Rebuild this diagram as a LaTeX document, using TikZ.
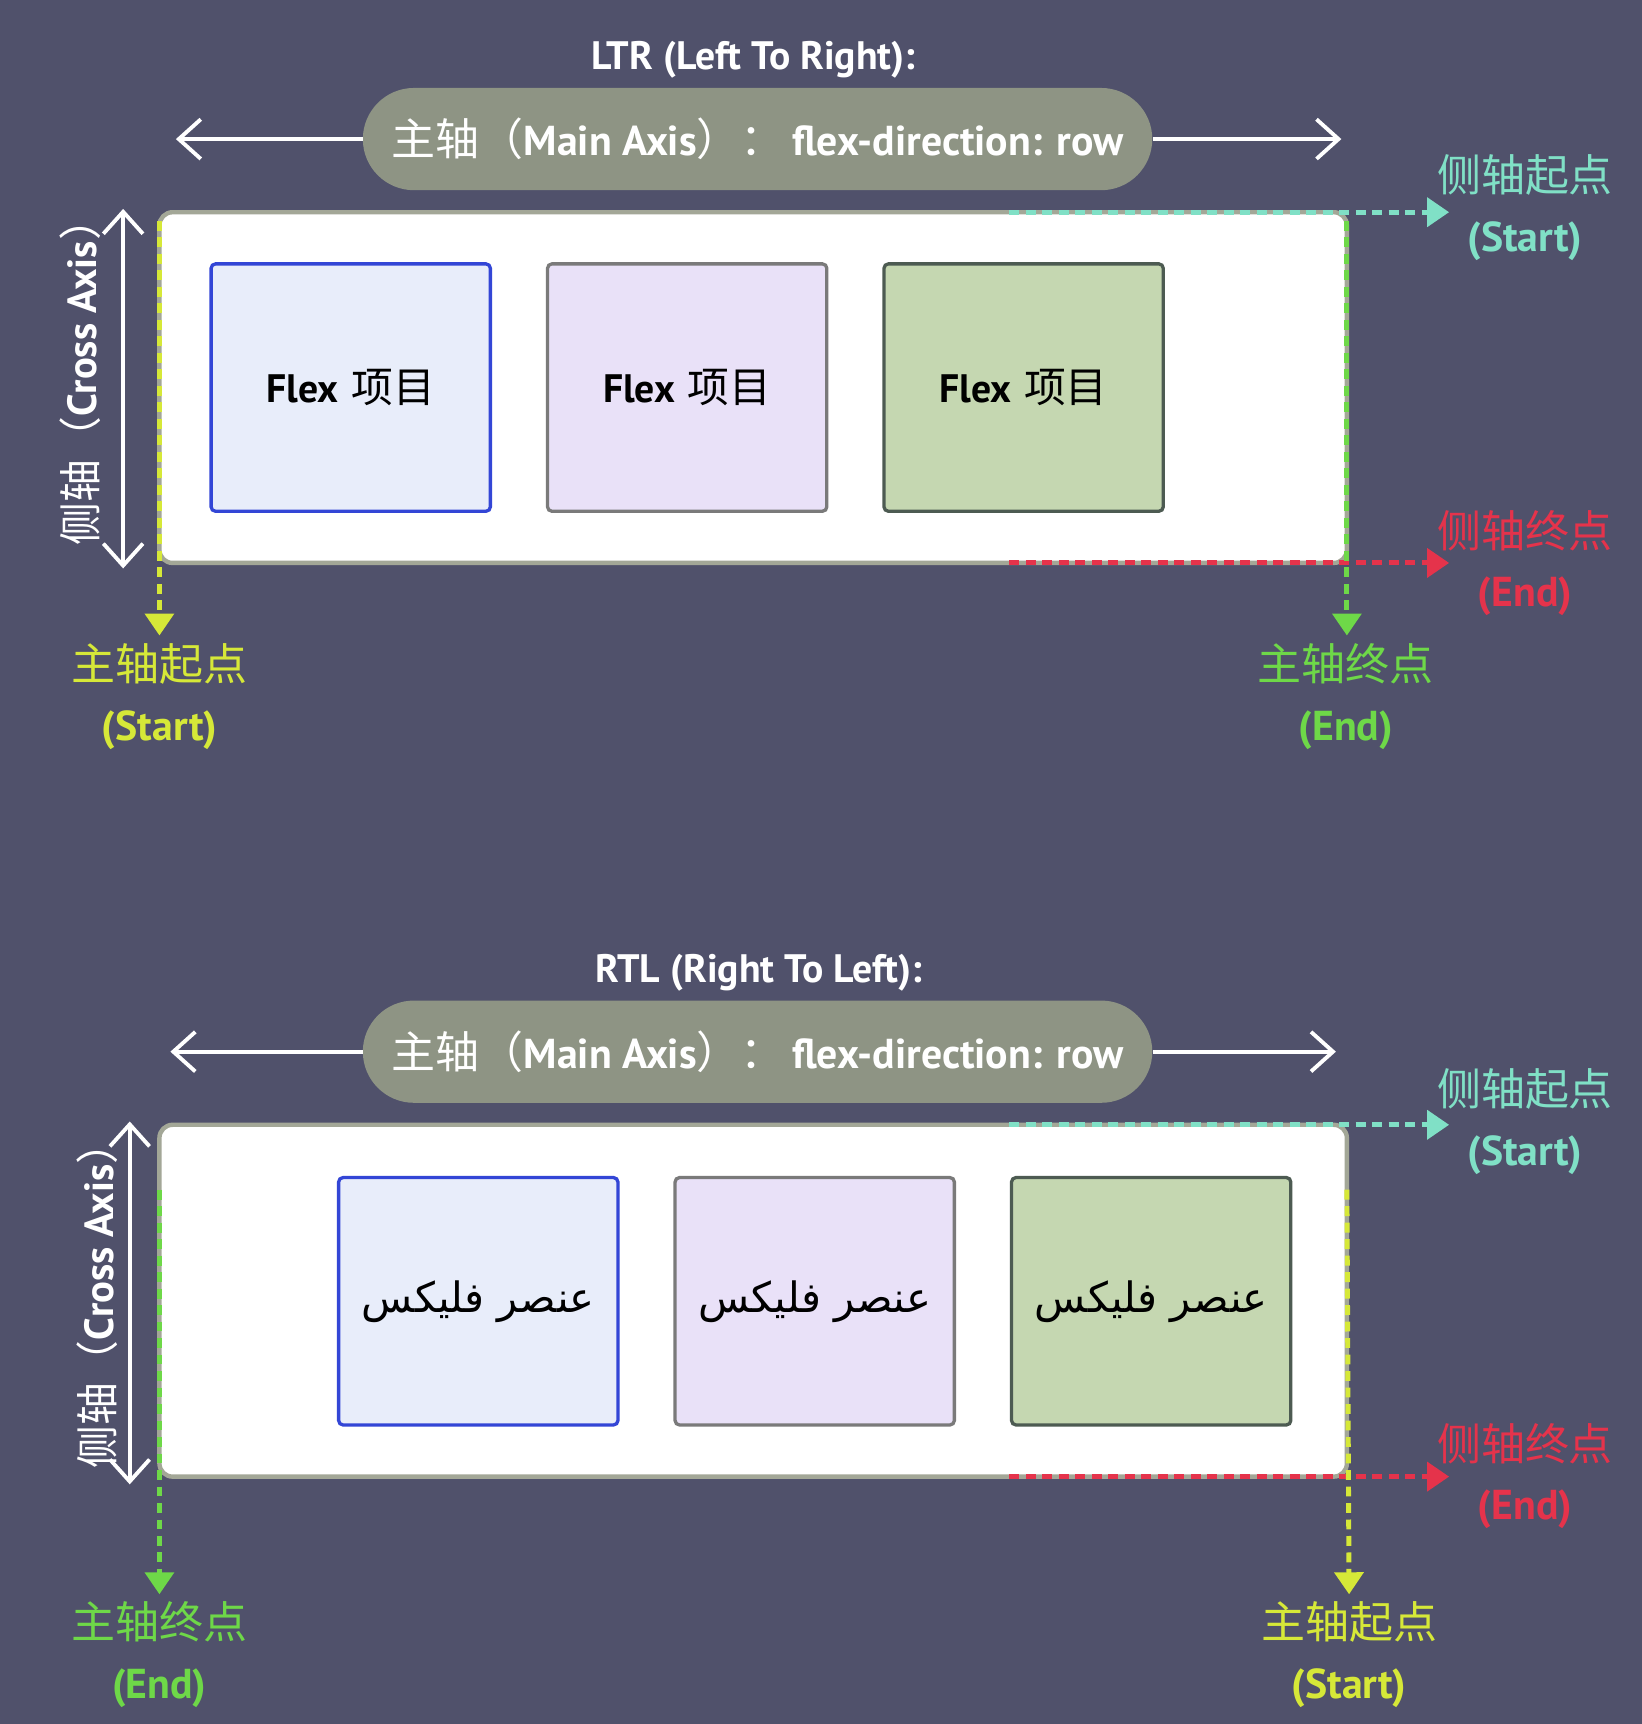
\documentclass[tikz,border=0pt]{standalone}
\usepackage{fontspec}
\usetikzlibrary{arrows.meta}
\TeXXeTstate=1
\newfontfamily\cjk{Noto Sans CJK SC}
\newfontfamily\lat[Scale=0.95]{PT Sans}
\newfontfamily\arabicfont[Script=Arabic]{DejaVu Sans}
\newcommand\zhtxt[1]{{\cjk #1}}
\newcommand\entxt[1]{{\lat\bfseries #1}}
\definecolor{bgc}{HTML}{50516B}
\definecolor{pillc}{HTML}{8E9484}
\definecolor{contb}{HTML}{A3A797}
\definecolor{cyanc}{HTML}{80E0C6}
\definecolor{redc}{HTML}{E5334B}
\definecolor{yelc}{HTML}{D6E838}
\definecolor{grnc}{HTML}{6ED848}
\definecolor{itemAf}{HTML}{E8EDFA}
\definecolor{itemAd}{HTML}{3346D6}
\definecolor{itemBf}{HTML}{E9E1F8}
\definecolor{itemBd}{HTML}{7A7A7A}
\definecolor{itemCf}{HTML}{C5D7B1}
\definecolor{itemCd}{HTML}{4D5B52}
\tikzset{
  axisarrow/.style={draw=white, line width=3.5pt, -{Straight Barb[length=20pt,width=36pt]}},
  bothaxis/.style={draw=white, line width=3.5pt, {Straight Barb[length=20pt,width=36pt]}-{Straight Barb[length=20pt,width=36pt]}},
  pillbox/.style={fill=pillc, rounded corners=46.5pt, minimum width=718pt, minimum height=93pt, inner sep=0pt, text=white, font=\fontsize{40}{44}\selectfont},
  titlebox/.style={text=white, inner sep=0pt, font=\lat\bfseries\fontsize{38}{42}\selectfont},
  cont/.style={draw=contb, line width=4pt, fill=white, rounded corners=12pt, minimum width=1080pt, minimum height=319pt, inner sep=0pt, outer sep=0pt},
  itembox/.style={line width=3pt, rounded corners=4pt, minimum width=254pt, minimum height=225pt, inner sep=0pt, text=black, font=\fontsize{38}{40}\selectfont},
  dline/.style={line width=4.5pt, dash pattern=on 9pt off 6pt, -{Triangle[length=20pt,width=26pt]}},
  lbl/.style={align=center, inner sep=0pt, font=\fontsize{40}{54}\selectfont},
  crosslbl/.style={rotate=90, text=white, inner sep=0pt, font=\fontsize{39}{44}\selectfont},
}
\begin{document}
\begin{tikzpicture}[x=1pt,y=-1pt]
\fill[bgc] (0,0) rectangle (1493,1568);
\useasboundingbox (0,0) rectangle (1493,1568);

% ---------------- LTR ----------------
\node[titlebox] (t1) at (685,54) {LTR (Left To Right):};
\node[pillbox] (p1) at (689,126.5) {\zhtxt{主轴（}\entxt{Main Axis}\zhtxt{）：}\,\entxt{flex-direction: row}};
\coordinate (la1) at (160,126.5);
\coordinate (ra1) at (1220,126.5);
\draw[axisarrow] (p1.west) -- (la1);
\draw[axisarrow] (p1.east) -- (ra1);

\node[cont] (c1) at (685,352.5) {};
\node[itembox, fill=itemAf, draw=itemAd] (i11) at (319,352.5) {\entxt{Flex} \zhtxt{项目}};
\node[itembox, fill=itemBf, draw=itemBd] (i12) at (625,352.5) {\entxt{Flex} \zhtxt{项目}};
\node[itembox, fill=itemCf, draw=itemCd] (i13) at (931,352.5) {\entxt{Flex} \zhtxt{项目}};

\coordinate (cat1) at (112,190);
\coordinate (cab1) at (112,517);
\draw[bothaxis] (cab1) -- (cat1);
\node[crosslbl] (cl1) at (73,338) {\zhtxt{侧轴（}\entxt{Cross Axis}\zhtxt{）}};

\coordinate (ct1) at (1318,193);
\coordinate (rt1) at (1318,512);
\coordinate (yt1) at (145,578);
\coordinate (gt1) at (1225,578);
\draw[dline, draw=cyanc] ([xshift=-307pt]c1.north east) -- (ct1);
\draw[dline, draw=redc] ([xshift=-307pt]c1.south east) -- (rt1);
\draw[dline, draw=yelc] ([yshift=-8pt]c1.north west) -- (yt1);
\draw[dline, draw=grnc] ([yshift=-8pt]c1.north east) -- (gt1);

\node[lbl, text=cyanc] (l11) at (1387,189) {\zhtxt{侧轴起点}\\\entxt{(Start)}};
\node[lbl, text=redc] (l12) at (1387,512) {\zhtxt{侧轴终点}\\\entxt{(End)}};
\node[lbl, text=yelc] (l13) at (145,633.5) {\zhtxt{主轴起点}\\\entxt{(Start)}};
\node[lbl, text=grnc] (l14) at (1224,633.5) {\zhtxt{主轴终点}\\\entxt{(End)}};

% ---------------- RTL ----------------
\node[titlebox] (t2) at (690,885) {RTL (Right To Left):};
\node[pillbox] (p2) at (689,956.5) {\zhtxt{主轴（}\entxt{Main Axis}\zhtxt{）：}\,\entxt{flex-direction: row}};
\coordinate (la2) at (155,956.5);
\coordinate (ra2) at (1215,956.5);
\draw[axisarrow] (p2.west) -- (la2);
\draw[axisarrow] (p2.east) -- (ra2);

\node[cont, minimum height=320pt] (c2) at (685,1183) {};
\node[itembox, fill=itemAf, draw=itemAd] (i21) at (435,1183.5) {\arabicfont\beginR عنصر فليكس\endR};
\node[itembox, fill=itemBf, draw=itemBd] (i22) at (741,1183.5) {\arabicfont\beginR عنصر فليكس\endR};
\node[itembox, fill=itemCf, draw=itemCd] (i23) at (1047,1183.5) {\arabicfont\beginR عنصر فليكس\endR};

\coordinate (cat2) at (118,1020);
\coordinate (cab2) at (118,1350);
\draw[bothaxis] (cab2) -- (cat2);
\node[crosslbl] (cl2) at (88,1178) {\zhtxt{侧轴（}\entxt{Cross Axis}\zhtxt{）}};

\coordinate (ct2) at (1318,1023);
\coordinate (rt2) at (1318,1343);
\coordinate (gt2) at (145,1450);
\coordinate (yt2) at (1227,1450);
\draw[dline, draw=cyanc] ([xshift=-307pt]c2.north east) -- (ct2);
\draw[dline, draw=redc] ([xshift=-307pt]c2.south east) -- (rt2);
\draw[dline, draw=grnc] ([yshift=-59pt]c2.north west) -- (gt2);
\draw[dline, draw=yelc] ([yshift=-59pt]c2.north east) -- (yt2);

\node[lbl, text=cyanc] (l21) at (1387,1020) {\zhtxt{侧轴起点}\\\entxt{(Start)}};
\node[lbl, text=redc] (l22) at (1387,1342.5) {\zhtxt{侧轴终点}\\\entxt{(End)}};
\node[lbl, text=grnc] (l23) at (145,1505) {\zhtxt{主轴终点}\\\entxt{(End)}};
\node[lbl, text=yelc] (l24) at (1227,1505) {\zhtxt{主轴起点}\\\entxt{(Start)}};
\end{tikzpicture}
\end{document}
